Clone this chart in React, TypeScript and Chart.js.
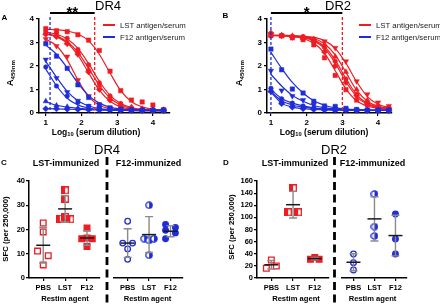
import React, { useEffect, useRef } from "react";
import { Chart, registerables } from "chart.js";
Chart.register(...registerables);

const FONT = 'Arial, "Liberation Sans", Helvetica, sans-serif';
const RED = "#ee1d23";
const BLUE = "#1f2dd9";

// ---------- Panels A & B (ELISA titration curves) ----------
const dilutionLog10 = [1.0, 1.3, 1.6, 1.9, 2.2, 2.5, 2.8, 3.1, 3.4, 3.7, 4.0, 4.3];
const xTicksAB = [1, 2, 3, 4];

const dr4LstPoints = [
  [3.59, 3.5, 3.46, 3.33, 3.1, 2.66, 1.78, 0.95, 0.55, 0.47, 0.34, 0.14],
  [3.4, 3.3, 3.0, 2.62, 1.85, 1.18, 0.7, 0.37, 0.25, 0.18, 0.15, 0.13],
  [3.45, 3.38, 3.18, 2.7, 2.05, 1.28, 0.72, 0.4, 0.22, 0.16, 0.13, 0.12],
  [3.35, 3.25, 2.95, 2.5, 1.75, 1.0, 0.55, 0.3, 0.18, 0.14, 0.12, 0.11],
  [3.15, 2.85, 2.4, 1.4, 0.72, 0.36, 0.2, 0.15, 0.12, 0.11, 0.1, 0.1],
];
const dr4LstFit = [
  [3.56, 3.54, 3.49, 3.36, 3.07, 2.5, 1.7, 0.95, 0.48, 0.26, 0.16, 0.12],
  [3.37, 3.27, 3.03, 2.58, 1.9, 1.18, 0.64, 0.34, 0.2, 0.14, 0.12, 0.11],
  [3.44, 3.35, 3.15, 2.75, 2.1, 1.35, 0.75, 0.4, 0.23, 0.15, 0.12, 0.11],
  [3.35, 3.24, 2.98, 2.46, 1.71, 0.97, 0.5, 0.26, 0.16, 0.125, 0.11, 0.105],
  [3.14, 2.86, 2.26, 1.41, 0.7, 0.33, 0.18, 0.13, 0.11, 0.1, 0.1, 0.1],
];
const dr4F12Points = [
  [2.95, 2.42, 1.9, 1.2, 0.66, 0.35, 0.22, 0.16, 0.13, 0.12, 0.12, 0.12],
  [2.27, 1.49, 0.89, 0.52, 0.3, 0.2, 0.15, 0.13, 0.12, 0.11, 0.11, 0.11],
  [1.96, 1.15, 0.72, 0.45, 0.28, 0.18, 0.14, 0.12, 0.11, 0.11, 0.1, 0.1],
  [0.5, 0.32, 0.26, 0.2, 0.17, 0.15, 0.14, 0.13, 0.12, 0.12, 0.12, 0.12],
  [0.18, 0.18, 0.16, 0.15, 0.14, 0.13, 0.13, 0.12, 0.12, 0.12, 0.12, 0.12],
];
const dr4F12Fit = [
  [2.89, 2.5, 1.92, 1.27, 0.74, 0.42, 0.25, 0.17, 0.13, 0.11, 0.105, 0.1],
  [2.2, 1.52, 0.92, 0.52, 0.3, 0.19, 0.14, 0.12, 0.11, 0.1, 0.1, 0.1],
  [1.87, 1.16, 0.63, 0.34, 0.21, 0.14, 0.12, 0.11, 0.1, 0.1, 0.1, 0.1],
  [0.48, 0.33, 0.25, 0.2, 0.17, 0.15, 0.14, 0.13, 0.12, 0.12, 0.12, 0.12],
  [0.19, 0.17, 0.16, 0.15, 0.14, 0.13, 0.13, 0.12, 0.12, 0.12, 0.12, 0.12],
];
const dr4Ec50Lines = [1.12, 2.37]; // [F12, LST]
const dr4Significance = "**";

const dr2LstPoints = [
  [3.3, 3.28, 3.2, 3.12, 2.9, 2.35, 1.6, 0.99, 0.55, 0.35, 0.25, 0.2],
  [3.32, 3.28, 3.28, 3.22, 3.15, 2.92, 2.4, 1.75, 1.0, 0.55, 0.3, 0.22],
  [3.28, 3.3, 3.25, 3.25, 3.1, 2.8, 2.2, 1.45, 0.8, 0.42, 0.28, 0.2],
  [3.4, 3.3, 3.22, 3.15, 3.05, 2.6, 2.0, 1.3, 0.75, 0.4, 0.27, 0.2],
  [3.35, 3.3, 3.25, 3.2, 3.15, 3.05, 2.77, 2.2, 1.35, 0.8, 0.45, 0.3],
];
const dr2LstFit = [
  [3.29, 3.28, 3.25, 3.17, 2.97, 2.55, 1.8, 1.03, 0.52, 0.29, 0.2, 0.17],
  [3.3, 3.3, 3.29, 3.25, 3.17, 2.95, 2.47, 1.73, 0.97, 0.5, 0.28, 0.2],
  [3.3, 3.29, 3.27, 3.23, 3.11, 2.82, 2.25, 1.46, 0.78, 0.41, 0.25, 0.19],
  [3.3, 3.29, 3.26, 3.21, 3.07, 2.75, 2.12, 1.33, 0.7, 0.37, 0.23, 0.18],
  [3.3, 3.3, 3.29, 3.27, 3.22, 3.08, 2.75, 2.12, 1.33, 0.7, 0.37, 0.23],
];
const dr2F12Points = [
  [2.72, 1.84, 1.02, 0.85, 0.5, 0.3, 0.28, 0.2, 0.15, 0.13, 0.12, 0.12],
  [1.8, 0.96, 0.72, 0.55, 0.35, 0.22, 0.18, 0.15, 0.13, 0.12, 0.12, 0.11],
  [1.05, 0.6, 0.42, 0.3, 0.22, 0.18, 0.15, 0.13, 0.12, 0.12, 0.11, 0.11],
  [0.95, 0.5, 0.32, 0.25, 0.2, 0.16, 0.14, 0.13, 0.12, 0.11, 0.11, 0.11],
  [0.92, 0.4, 0.25, 0.18, 0.15, 0.13, 0.12, 0.12, 0.11, 0.11, 0.11, 0.11],
];
const dr2F12Fit = [
  [2.58, 1.9, 1.3, 0.85, 0.52, 0.33, 0.22, 0.17, 0.14, 0.12, 0.12, 0.12],
  [1.65, 1.15, 0.75, 0.5, 0.32, 0.22, 0.17, 0.14, 0.12, 0.12, 0.11, 0.11],
  [1.0, 0.62, 0.42, 0.3, 0.22, 0.17, 0.15, 0.13, 0.12, 0.12, 0.11, 0.11],
  [0.92, 0.52, 0.34, 0.25, 0.19, 0.16, 0.14, 0.13, 0.12, 0.11, 0.11, 0.11],
  [0.88, 0.42, 0.25, 0.18, 0.15, 0.13, 0.12, 0.12, 0.11, 0.11, 0.11, 0.11],
];
const dr2Ec50Lines = [1.0, 3.0];
const dr2Significance = "*";

const lstMarkerStyles = ["rect", "triangle", "circle", "rectRot", "triangle"];
const lstMarkerRotation = [0, 0, 0, 0, 180];
const f12MarkerStyles = ["rect", "triangle", "circle", "triangle", "rectRot"];
const f12MarkerRotation = [0, 180, 0, 0, 0];
const legendLabels = ["LST antigen/serum", "F12 antigen/serum"];

// ---------- Panels C & D (ELISpot) ----------
const restimAgents = ["PBS", "LST", "F12"];

const dr4LstImmValues = [
  [22.7, 19.0, 11.1, 9.2, 5.4],
  [36.1, 32.7, 24.5, 25.2, 24.2],
  [20.6, 16.2, 16.5, 16.2, 13.0],
];
const dr4LstImmJitter = [
  [0, 0, -0.26, 0.23, 0],
  [0, 0, -0.24, 0, 0.24],
  [0, -0.24, 0, 0.24, 0],
];
const dr4LstImmMean = [13.5, 28.5, 16.5];
const dr4LstImmSd = [7.3, 5.5, 3.0];

const dr4F12ImmValues = [
  [23.4, 14.4, 14.4, 12.0, 7.7],
  [30.0, 16.2, 15.5, 16.2, 9.4],
  [22.1, 20.8, 19.7, 18.6, 16.2],
];
const dr4F12ImmJitter = [
  [0, -0.23, 0.23, 0, 0],
  [0, -0.23, 0, 0.23, 0],
  [-0.23, 0.23, -0.23, 0.23, -0.23],
];
const dr4F12ImmMean = [14.4, 17.9, 19.3];
const dr4F12ImmSd = [5.9, 7.4, 2.3];

const dr2LstImmValues = [
  [29.7, 19.8, 16.0],
  [148, 108.4, 108.4],
  [31, 34, 31],
];
const dr2LstImmJitter = [
  [0, 0.23, -0.23],
  [0, -0.23, 0.23],
  [-0.2, 0, 0.2],
];
const dr2LstImmMean = [21.8, 120.9, 32];
const dr2LstImmSd = [7.0, 22.0, 1.8];

const dr2F12ImmValues = [
  [39.6, 25.2, 13.2],
  [138.6, 84.7, 69.3],
  [105.6, 64.4, 39.6],
];
const dr2F12ImmJitter = [
  [0, 0, 0],
  [0, 0, 0],
  [0, 0, 0],
];
const dr2F12ImmMean = [26, 97.5, 70];
const dr2F12ImmSd = [14, 36.5, 33.5];

// ---------- helpers ----------
function halfSquare(color: string) {
  const c = document.createElement("canvas");
  c.width = 8;
  c.height = 8;
  const g = c.getContext("2d")!;
  g.fillStyle = "#fff";
  g.fillRect(0, 0, 8, 8);
  g.fillStyle = color;
  g.fillRect(0, 0, 4, 8);
  g.strokeStyle = color;
  g.lineWidth = 1.4;
  g.strokeRect(0.7, 0.7, 6.6, 6.6);
  return c;
}
function halfCircle(color: string) {
  const c = document.createElement("canvas");
  c.width = 8;
  c.height = 8;
  const g = c.getContext("2d")!;
  g.beginPath();
  g.arc(4, 4, 3.2, 0, Math.PI * 2);
  g.fillStyle = "#fff";
  g.fill();
  g.beginPath();
  g.moveTo(4, 0.8);
  g.arc(4, 4, 3.2, -Math.PI / 2, Math.PI / 2);
  g.closePath();
  g.fillStyle = color;
  g.fill();
  g.beginPath();
  g.arc(4, 4, 3.2, 0, Math.PI * 2);
  g.strokeStyle = color;
  g.lineWidth = 1.2;
  g.stroke();
  return c;
}

const tickFont = { size: 8, weight: "bold" as any, family: FONT };

function axisCommon() {
  return {
    grid: { display: true, drawOnChartArea: false, drawTicks: true, tickLength: 3, color: "#000", lineWidth: 1.2 },
    border: { display: true, color: "#000", width: 1.5 },
  };
}

function abConfig(p: any) {
  const datasets: any[] = [];
  const addGroup = (pts: number[][], fits: number[][], color: string, styles: string[], rots: number[]) => {
    fits.forEach((fit) =>
      datasets.push({
        data: dilutionLog10.map((x, j) => ({ x, y: fit[j] })),
        showLine: true,
        borderColor: color,
        borderWidth: 1.2,
        pointRadius: 0,
        cubicInterpolationMode: "monotone",
        fill: false,
      })
    );
    pts.forEach((pt, i) =>
      datasets.push({
        data: dilutionLog10.map((x, j) => ({ x, y: pt[j] })),
        showLine: false,
        pointStyle: styles[i],
        rotation: rots[i],
        pointRadius: styles[i] === "circle" ? 2.3 : 3.1,
        backgroundColor: color,
        borderColor: color,
        borderWidth: 0.5,
        clip: false,
      })
    );
  };
  addGroup(p.f12Pts, p.f12Fit, BLUE, f12MarkerStyles, f12MarkerRotation);
  addGroup(p.lstPts, p.lstFit, RED, lstMarkerStyles, lstMarkerRotation);

  const decor = {
    id: "abDecor",
    afterDatasetsDraw(chart: any) {
      const { ctx, chartArea, scales } = chart;
      const x = scales.x;
      ctx.save();
      ctx.lineWidth = 1.3;
      ctx.setLineDash([3, 2]);
      [
        [p.lines[0], BLUE],
        [p.lines[1], RED],
      ].forEach(([v, c]: any) => {
        const px = x.getPixelForValue(v);
        ctx.strokeStyle = c;
        ctx.beginPath();
        ctx.moveTo(px, chartArea.top - 2);
        ctx.lineTo(px, chartArea.bottom);
        ctx.stroke();
      });
      ctx.setLineDash([]);
      const x1 = x.getPixelForValue(p.lines[0]);
      const x2 = x.getPixelForValue(p.lines[1]);
      const y = chartArea.top - 6;
      ctx.strokeStyle = "#000";
      ctx.lineWidth = 2;
      ctx.beginPath();
      ctx.moveTo(x1, y);
      ctx.lineTo(x2, y);
      ctx.stroke();
      ctx.fillStyle = "#000";
      ctx.font = `bold 15px ${FONT}`;
      ctx.textAlign = "center";
      ctx.textBaseline = "alphabetic";
      ctx.fillText(p.star, (x1 + x2) / 2, chartArea.top - 2);
      ctx.restore();
    },
  };

  return {
    type: "scatter",
    data: { datasets },
    plugins: [decor],
    options: {
      responsive: false,
      animation: false,
      devicePixelRatio: 1,
      layout: { padding: { top: p.padTop, right: p.padRight, left: 0, bottom: 0 } },
      plugins: { legend: { display: false }, tooltip: { enabled: false } },
      scales: {
        x: {
          type: "linear",
          min: p.xMin,
          max: p.xMax,
          ...axisCommon(),
          ticks: { font: tickFont, color: "#000", padding: 2, maxRotation: 0 },
          afterBuildTicks: (s: any) => {
            s.ticks = xTicksAB.map((v) => ({ value: v }));
          },
          afterFit: (s: any) => {
            s.height = p.xHeight;
          },
        },
        y: {
          type: "linear",
          min: 0,
          max: 4,
          ...axisCommon(),
          ticks: { font: tickFont, color: "#000", stepSize: 1, padding: 2 },
          afterFit: (s: any) => {
            s.width = p.yWidth;
          },
        },
      },
    },
  };
}

function catConfig(p: any) {
  const datasets = p.values.map((vals: number[], i: number) => ({
    data: vals.map((v, j) => ({ x: i + p.jitter[i][j], y: v })),
    pointStyle: p.styles[i].style,
    pointRadius: p.styles[i].r,
    backgroundColor: p.styles[i].bg,
    borderColor: p.styles[i].border,
    borderWidth: 1.3,
    clip: false,
  }));
  const bars = {
    id: "meanSd",
    afterDatasetsDraw(chart: any) {
      const { ctx, scales } = chart;
      const x = scales.x;
      const y = scales.y;
      ctx.save();
      p.means.forEach((m: number, i: number) => {
        const px = x.getPixelForValue(i);
        const top = y.getPixelForValue(m + p.sds[i]);
        const bot = y.getPixelForValue(m - p.sds[i]);
        const my = y.getPixelForValue(m);
        ctx.strokeStyle = "#8a8a8a";
        ctx.lineWidth = 1.4;
        ctx.beginPath();
        ctx.moveTo(px, top);
        ctx.lineTo(px, bot);
        ctx.moveTo(px - 4, top);
        ctx.lineTo(px + 4, top);
        ctx.moveTo(px - 4, bot);
        ctx.lineTo(px + 4, bot);
        ctx.stroke();
        ctx.strokeStyle = "#1a1a1a";
        ctx.lineWidth = 1.5;
        ctx.beginPath();
        ctx.moveTo(px - 7, my);
        ctx.lineTo(px + 7, my);
        ctx.stroke();
      });
      ctx.restore();
    },
  };
  return {
    type: "scatter",
    data: { datasets },
    plugins: [bars],
    options: {
      responsive: false,
      animation: false,
      devicePixelRatio: 1,
      layout: { padding: { top: p.padTop, right: p.padRight, left: p.padLeft, bottom: 0 } },
      plugins: { legend: { display: false }, tooltip: { enabled: false } },
      scales: {
        x: {
          type: "linear",
          min: p.xMin,
          max: p.xMax,
          ...axisCommon(),
          ticks: {
            font: { size: 7.5, weight: "bold", family: FONT },
            color: "#000",
            padding: 2,
            maxRotation: 0,
            callback: (v: number) => restimAgents[v] ?? "",
          },
          afterBuildTicks: (s: any) => {
            s.ticks = restimAgents.map((_, i) => ({ value: i }));
          },
          afterFit: (s: any) => {
            s.height = p.xHeight;
          },
        },
        y: p.showY
          ? {
              type: "linear",
              min: 0,
              max: p.yMax,
              ...axisCommon(),
              ticks: { font: { size: 7.5, weight: "bold", family: FONT }, color: "#000", stepSize: p.yStep, padding: 1 },
              afterFit: (s: any) => {
                s.width = p.yWidth;
              },
            }
          : { type: "linear", min: 0, max: p.yMax, display: false },
      },
    },
  };
}

function ChartCanvas({ left, top, width, height, make }: any) {
  const ref = useRef<HTMLCanvasElement>(null);
  useEffect(() => {
    const chart = new Chart(ref.current as any, make() as any);
    return () => chart.destroy();
  }, []);
  return (
    <canvas
      ref={ref}
      width={width}
      height={height}
      style={{ position: "absolute", left, top, width, height }}
    />
  );
}

function Txt({ x, y, size, bold, rot, color, children }: any) {
  return (
    <div
      style={{
        position: "absolute",
        left: x,
        top: y,
        transform: `translate(-50%,-50%)${rot ? ` rotate(${rot}deg)` : ""}`,
        fontSize: size,
        fontWeight: bold ? 700 : 400,
        whiteSpace: "nowrap",
        lineHeight: 1,
        color: color || "#000",
        fontFamily: FONT,
      }}
    >
      {children}
    </div>
  );
}

function Legend({ x, y }: any) {
  const rows = [
    [legendLabels[0], RED],
    [legendLabels[1], BLUE],
  ];
  return (
    <>
      {rows.map(([label, c], i) => (
        <div key={i} style={{ position: "absolute", left: x, top: y + i * 12 - 5, height: 10, display: "flex", alignItems: "center", fontFamily: FONT, fontSize: 7.8, color: "#222", whiteSpace: "nowrap" }}>
          <div style={{ width: 12, height: 1.5, background: c, marginRight: 5 }} />
          {label}
        </div>
      ))}
    </>
  );
}

const sub = { fontSize: "68%", verticalAlign: "-0.3em" } as any;

export default function App() {
  const makeA = () =>
    abConfig({ lstPts: dr4LstPoints, lstFit: dr4LstFit, f12Pts: dr4F12Points, f12Fit: dr4F12Fit, lines: dr4Ec50Lines, star: dr4Significance, xMin: 0.81, xMax: 4.48, padTop: 19, padRight: 10, yWidth: 39, xHeight: 27 });
  const makeB = () =>
    abConfig({ lstPts: dr2LstPoints, lstFit: dr2LstFit, f12Pts: dr2F12Points, f12Fit: dr2F12Fit, lines: dr2Ec50Lines, star: dr2Significance, xMin: 0.89, xMax: 4.39, padTop: 19, padRight: 8, yWidth: 47, xHeight: 27 });

  const redStyles = () => [
    { style: "rect", r: 4, bg: "#fff", border: RED },
    { style: halfSquare(RED), r: 4, bg: RED, border: RED },
    { style: "rect", r: 4, bg: RED, border: RED },
  ];
  const blueStyles = () => [
    { style: "circle", r: 2.8, bg: "#fff", border: BLUE },
    { style: halfCircle(BLUE), r: 3, bg: BLUE, border: BLUE },
    { style: "circle", r: 2.8, bg: BLUE, border: BLUE },
  ];

  const makeCL = () =>
    catConfig({ values: dr4LstImmValues, jitter: dr4LstImmJitter, means: dr4LstImmMean, sds: dr4LstImmSd, styles: redStyles(), xMin: -0.65, xMax: 2.58, yMax: 40, yStep: 10, showY: true, yWidth: 29, padLeft: 0, padRight: 5, padTop: 31, xHeight: 22 });
  const makeCR = () =>
    catConfig({ values: dr4F12ImmValues, jitter: dr4F12ImmJitter, means: dr4F12ImmMean, sds: dr4F12ImmSd, styles: blueStyles(), xMin: -0.67, xMax: 2.57, yMax: 40, yStep: 10, showY: false, padLeft: 4, padRight: 5, padTop: 31, xHeight: 22 });
  const makeDL = () =>
    catConfig({ values: dr2LstImmValues, jitter: dr2LstImmJitter, means: dr2LstImmMean, sds: dr2LstImmSd, styles: redStyles(), xMin: -0.66, xMax: 2.64, yMax: 160, yStep: 20, showY: true, yWidth: 35, padLeft: 0, padRight: 4, padTop: 31, xHeight: 22 });
  const makeDR = () =>
    catConfig({ values: dr2F12ImmValues, jitter: dr2F12ImmJitter, means: dr2F12ImmMean, sds: dr2F12ImmSd, styles: blueStyles(), xMin: -0.58, xMax: 2.55, yMax: 160, yStep: 20, showY: false, padLeft: 2, padRight: 9, padTop: 31, xHeight: 22 });

  return (
    <div style={{ position: "absolute", left: 0, top: 0, width: 440, height: 304, overflow: "hidden", background: "#fff", fontFamily: FONT }}>
      <ChartCanvas left={0} top={0} width={180} height={140} make={makeA} />
      <ChartCanvas left={220} top={0} width={180} height={140} make={makeB} />
      <ChartCanvas left={0} top={150} width={105} height={150} make={makeCL} />
      <ChartCanvas left={108} top={150} width={80} height={150} make={makeCR} />
      <ChartCanvas left={222} top={150} width={112} height={150} make={makeDL} />
      <ChartCanvas left={336} top={150} width={80} height={150} make={makeDR} />

      <svg width={440} height={304} style={{ position: "absolute", left: 0, top: 0, pointerEvents: "none" }}>
        <line x1={107} y1={157} x2={107} y2={304} stroke="#000" strokeWidth={2.8} strokeDasharray="8 4.5" />
        <line x1={334.5} y1={157} x2={334.5} y2={304} stroke="#000" strokeWidth={2.8} strokeDasharray="8 4.5" />
      </svg>

      {/* Panel A */}
      <Txt x={4.5} y={18} size={8} bold>A</Txt>
      <Txt x={108} y={5} size={13}>DR4</Txt>
      <Txt x={11} y={73} size={9} bold rot={-90}>A<span style={sub}>450nm</span></Txt>
      <Txt x={96} y={133} size={8.5} bold>Log<span style={sub}>10</span> (serum dilution)</Txt>
      <Legend x={103} y={25} />

      {/* Panel B */}
      <Txt x={225.5} y={16} size={8} bold>B</Txt>
      <Txt x={338} y={5} size={13}>DR2</Txt>
      <Txt x={240} y={73} size={9} bold rot={-90}>A<span style={sub}>450nm</span></Txt>
      <Txt x={324} y={133} size={8.5} bold>Log<span style={sub}>10</span> (serum dilution)</Txt>
      <Legend x={359} y={25} />

      {/* Panel C */}
      <Txt x={4} y={163} size={8} bold>C</Txt>
      <Txt x={107} y={148.5} size={13}>DR4</Txt>
      <Txt x={66} y={163} size={9} bold>LST-immunized</Txt>
      <Txt x={148.5} y={163} size={9} bold>F12-immunized</Txt>
      <Txt x={5.5} y={229} size={7.8} bold rot={-90}>SFC (per 250,000)</Txt>
      <Txt x={65} y={299} size={7.6} bold>Restim agent</Txt>
      <Txt x={147.5} y={299} size={7.6} bold>Restim agent</Txt>

      {/* Panel D */}
      <Txt x={226} y={163} size={8} bold>D</Txt>
      <Txt x={334} y={148.5} size={13}>DR2</Txt>
      <Txt x={295} y={163} size={9} bold>LST-immunized</Txt>
      <Txt x={372.5} y={163} size={9} bold>F12-immunized</Txt>
      <Txt x={231.5} y={227} size={7.8} bold rot={-90}>SFC (per 250,000)</Txt>
      <Txt x={296} y={299} size={7.6} bold>Restim agent</Txt>
      <Txt x={372.5} y={299} size={7.6} bold>Restim agent</Txt>
    </div>
  );
}
